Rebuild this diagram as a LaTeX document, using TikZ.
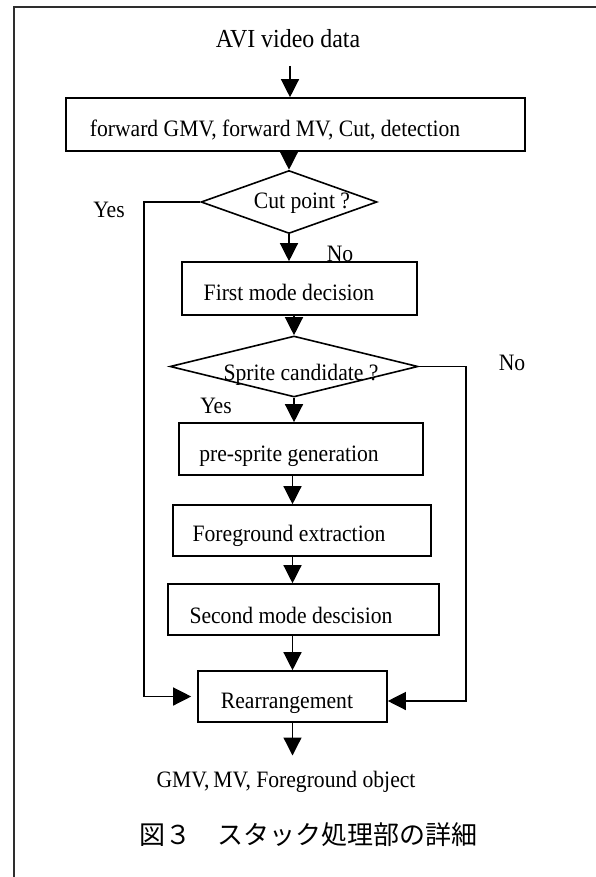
\documentclass[tikz,border=0pt]{standalone}
\usepackage{fontspec}
\setmainfont[FakeStretch=0.92]{Liberation Serif}
\newfontfamily\cjk{Noto Sans CJK JP}
\usetikzlibrary{positioning,calc,shapes.geometric,arrows.meta}

\begin{document}
\begin{tikzpicture}[x=1pt,y=1pt]
    \tikzstyle{every node}=[inner sep=0,font=\fontsize{23.5}{28}\selectfont]
    \tikzstyle{note}=[draw=none,anchor=base]
    \tikzstyle{box}=[draw=black,line width=1.6,rectangle]
    \tikzstyle{choice}=[draw=black,line width=1.6,diamond,aspect=2.8]
    \tikzstyle{arr}=[line width=1.3,-{Triangle[width=18pt,length=18pt]}]
    \tikzstyle{frame}=[line width=2.2,draw=black!82]
    \useasboundingbox (0,0) rectangle (596,-877);
    {
        % outer frame (only top and left edges show)
        \draw[frame] (596,-7) -- (14,-7) -- (14,-877);

        \node[note,font=\fontsize{26}{30}\selectfont] (title) at (288,-48) {AVI video data};

        \node[box,minimum width=459,minimum height=53] (gmv) at (295.5,-124.5) {};
        \node[note] (gmvtext) at (275,-137) {forward GMV, forward MV, Cut, detection};

        \node[choice,minimum width=176,minimum height=63] (cut) at (289,-202) {};
        \node[note] (cuttext) at (302,-209) {Cut point ?};
        \node[note] (yesA) at (109,-218) {Yes};
        \node[note] (noA) at (340,-261) {No};

        \node[box,minimum width=235,minimum height=53] (first) at (299.5,-288.5) {};
        \node[note] (firsttext) at (289,-300) {First mode decision};

        \node[choice,minimum width=248,minimum height=61] (sprite) at (294,-366.5) {};
        \node[note] (spritetext) at (301,-380) {Sprite candidate ?};
        \node[note] (noB) at (512,-370) {No};
        \node[note] (yesB) at (216,-413) {Yes};

        \node[box,minimum width=244,minimum height=52] (presprite) at (301,-449) {};
        \node[note] (presprtext) at (289,-461) {pre-sprite generation};

        \node[box,minimum width=258,minimum height=51] (fore) at (302,-530.5) {};
        \node[note] (foretext) at (289,-541) {Foreground extraction};

        \node[box,minimum width=271,minimum height=51] (second) at (303.5,-609.5) {};
        \node[note] (secondtext) at (291,-623) {Second mode descision};

        \node[box,minimum width=189,minimum height=51] (rearr) at (292.5,-696.5) {};
        \node[note] (rearrtext) at (287,-708) {Rearrangement};

        \node[note] (output) at (286,-787) {GMV,\,MV, Foreground object};

        \node[note,font=\cjk\fontsize{26}{30}\selectfont] (caption) at (308,-844) {図３　スタック処理部の詳細};

        % main flow
        \coordinate (titlefoot) at (290,-66);
        \draw[arr] (titlefoot) -- (titlefoot |- gmv.north);
        \draw[arr] (gmv.south -| cut.north) -- (cut.north);
        \draw[arr] (cut.south) -- (cut.south |- first.north);
        \draw[arr] (first.south -| sprite.north) -- (sprite.north);
        \draw[arr] (sprite.south) -- (sprite.south |- presprite.north);
        \draw[arr] (presprite.south -| rearr.north) -- (rearr.north |- fore.north);
        \draw[arr] (fore.south -| rearr.north) -- (rearr.north |- second.north);
        \draw[arr] (second.south -| rearr.north) -- (rearr.north);
        \draw[arr,shorten >=15pt] (rearr.south) -- (rearr.south |- output.north);

        % side branches
        \coordinate (yescorner) at (144,-696.5);
        \coordinate (nocorner) at (466,-701);
        \draw[arr,shorten >=6pt] (cut.west) -| (yescorner) -- (rearr.west);
        \draw[arr] (sprite.east) -| (nocorner) -- (nocorner -| rearr.east);
    }
\end{tikzpicture}
\end{document}
